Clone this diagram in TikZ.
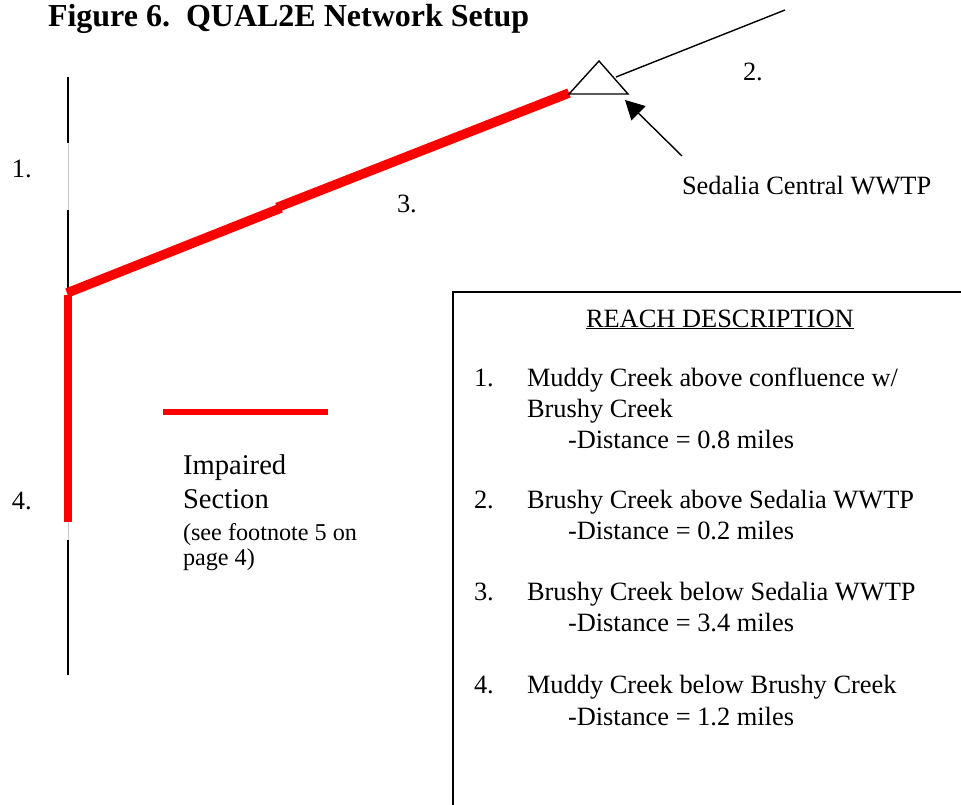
\documentclass[tikz,border=0pt]{standalone}
\usepackage{fontspec}
\setmainfont{Liberation Serif}
\usetikzlibrary{arrows.meta}

\newcommand\titlesize{\fontsize{32pt}{38pt}\bfseries\selectfont}
\newcommand\bodysize{\fontsize{26.4pt}{31pt}\selectfont}
\newcommand\impsize{\fontsize{28.6pt}{34pt}\selectfont}
\newcommand\notesize{\fontsize{24.2pt}{29pt}\selectfont}

\begin{document}
\begin{tikzpicture}[x=1pt,y=-1pt,
  txt/.style={anchor=base west, inner sep=0pt, outer sep=0pt, font=\bodysize},
  creek/.style={black, line width=2pt},
  faint/.style={black!22, line width=1pt},
  reach/.style={red, line width=9.5pt},
  reachv/.style={red, line width=8pt},
  thinline/.style={black, line width=1.4pt},
  boxline/.style={black, line width=1.5pt}]
\useasboundingbox (0,0) rectangle (961,805);

% title
\node[txt, font=\titlesize] (title) at (48,27) {Figure 6.\ \ QUAL2E Network Setup};

% Muddy Creek (vertical stem)
\coordinate (mtop)  at (68,77);
\coordinate (g1a)   at (68,143);
\coordinate (g1b)   at (68,210);
\coordinate (conf)  at (68,293);
\coordinate (r4top) at (68,295);
\coordinate (r4bot) at (68,522);
\coordinate (g2b)   at (68,540);
\coordinate (mbot)  at (68,675);
\draw[creek] (mtop) -- (g1a);
\draw[faint] (g1a) -- (g1b);
\draw[creek] (g1b) -- (conf);
\draw[faint] (r4bot) -- (g2b);
\draw[creek] (g2b) -- (mbot);
\draw[reachv] (r4top) -- (r4bot);

% Brushy Creek impaired reach (two pieces)
\coordinate (b1s) at (67,293);
\coordinate (b1e) at (281,208);
\coordinate (b2s) at (277,207.5);
\coordinate (b2e) at (569,93);
\draw[reach] (b1s) -- (b1e);
\draw[reach] (b2s) -- (b2e);

% WWTP triangle and upstream branch
\coordinate (tl) at (569,94);
\coordinate (tt) at (599,61);
\coordinate (tr) at (628,94);
\draw[thinline, line join=miter] (tl) -- (tt) -- (tr) -- cycle;
\coordinate (up1) at (616,77);
\coordinate (up2) at (785,10);
\draw[thinline] (up1) -- (up2);

% pointer to the WWTP
\coordinate (ptail) at (682,156);
\coordinate (ptip)  at (625,100);
\draw[thinline, -{Triangle[length=19pt,width=20pt]}] (ptail) -- (ptip);

% reach numbers and labels
\node[txt] (n1) at (12,178) {1.};
\node[txt] (n2) at (743,81) {2.};
\node[txt] (n3) at (397,213) {3.};
\node[txt] (n4) at (12,509) {4.};
\node[txt] (wwtp) at (682,195) {Sedalia Central WWTP};

% legend
\coordinate (lg1) at (163,412);
\coordinate (lg2) at (328,412);
\draw[red, line width=6pt] (lg1) -- (lg2);
\node[txt, font=\impsize] (imp1) at (183,474) {Impaired};
\node[txt, font=\impsize] (imp2) at (183,508) {Section};
\node[txt, font=\notesize] (fn1) at (183,540) {(see footnote 5 on};
\node[txt, font=\notesize] (fn2) at (183,565) {page 4)};

% reach description box
\coordinate (bx1) at (961,292);
\coordinate (bx2) at (453,292);
\coordinate (bx3) at (453,805);
\draw[boxline] (bx1) -- (bx2) -- (bx3);
\node[txt] (head) at (586,327) {\underline{REACH DESCRIPTION}};

\node[txt] (l1n) at (474,386) {1.};
\node[txt] (l1a) at (527,386) {Muddy Creek above confluence w/};
\node[txt] (l1b) at (527,417) {Brushy Creek};
\node[txt] (l1c) at (568,448) {-Distance = 0.8 miles};

\node[txt] (l2n) at (474,508) {2.};
\node[txt] (l2a) at (527,508) {Brushy Creek above Sedalia WWTP};
\node[txt] (l2c) at (568,539) {-Distance = 0.2 miles};

\node[txt] (l3n) at (474,600) {3.};
\node[txt] (l3a) at (527,600) {Brushy Creek below Sedalia WWTP};
\node[txt] (l3c) at (568,631) {-Distance = 3.4 miles};

\node[txt] (l4n) at (474,693) {4.};
\node[txt] (l4a) at (527,693) {Muddy Creek below Brushy Creek};
\node[txt] (l4c) at (568,725) {-Distance = 1.2 miles};
\end{tikzpicture}
\end{document}
